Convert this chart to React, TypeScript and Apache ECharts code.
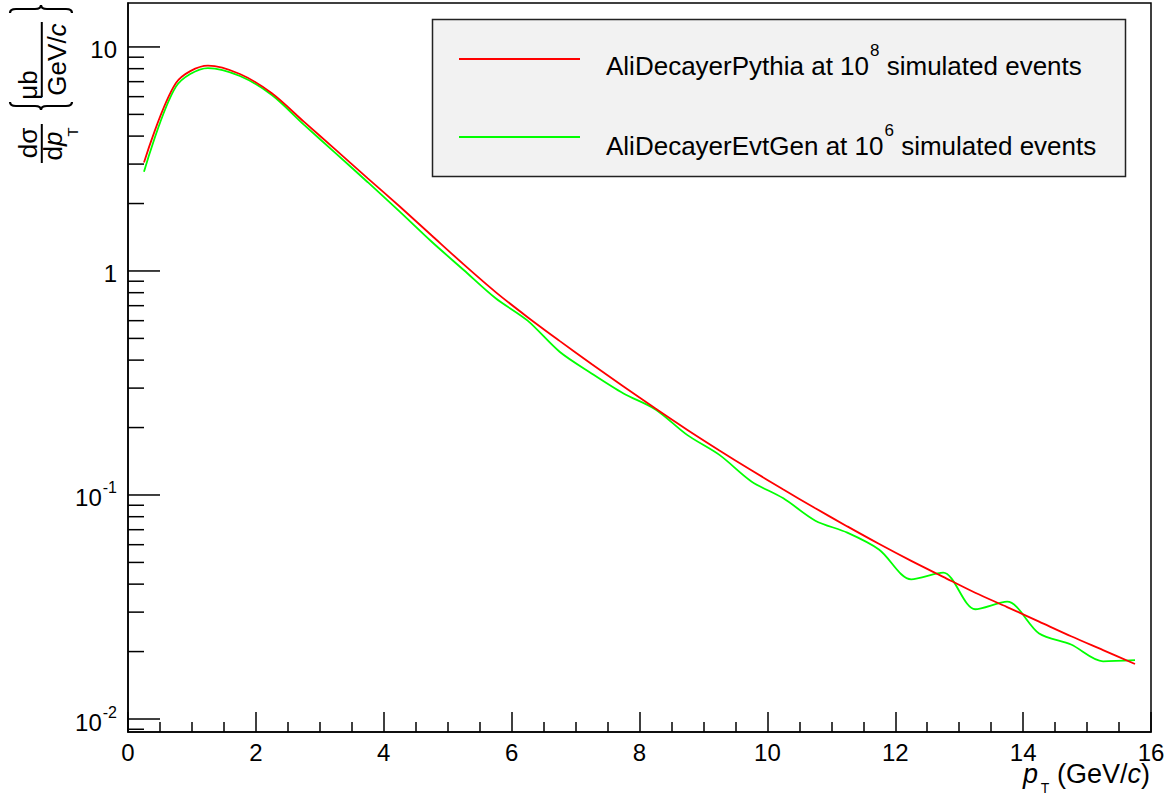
import React, { useEffect, useRef } from 'react';
import * as echarts from 'echarts';

// pT bin centres (GeV/c)
const pT = [0.25, 0.75, 1.25, 1.75, 2.25, 2.75, 3.25, 3.75, 4.25, 4.75, 5.25, 5.75, 6.25, 6.75, 7.25, 7.75,
  8.25, 8.75, 9.25, 9.75, 10.25, 10.75, 11.25, 11.75, 12.25, 12.75, 13.25, 13.75, 14.25, 14.75, 15.25, 15.75];

// dσ/dpT (μb/(GeV/c)) – AliDecayerPythia, 10^8 events
const pythia = [3.05, 6.9, 8.25, 7.57, 6.21, 4.64, 3.47, 2.59, 1.94, 1.44, 1.07, 0.805, 0.622, 0.4875, 0.384, 0.305,
  0.243, 0.195, 0.158, 0.129, 0.1057, 0.0873, 0.0724, 0.0604, 0.0508, 0.0431, 0.0366, 0.0316, 0.0272, 0.0234, 0.0203, 0.0176];

// dσ/dpT (μb/(GeV/c)) – AliDecayerEvtGen, 10^6 events
const evtgen = [2.77, 6.65, 8.05, 7.42, 6.1, 4.5, 3.35, 2.49, 1.84, 1.35, 1.01, 0.755, 0.6, 0.436, 0.349, 0.284,
  0.241, 0.185, 0.151, 0.115, 0.0966, 0.0768, 0.0679, 0.057, 0.042, 0.045, 0.0309, 0.0334, 0.0241, 0.0215, 0.0181, 0.0183];

// axis ticks
const yMajorTicks = [0.01, 0.1, 1, 10];
const yMinorTicks = [0.009, 0.02, 0.03, 0.04, 0.05, 0.06, 0.07, 0.08, 0.09,
  0.2, 0.3, 0.4, 0.5, 0.6, 0.7, 0.8, 0.9, 2, 3, 4, 5, 6, 7, 8, 9];

const legendLabels = [
  { pre: 'AliDecayerPythia at 10', sup: '8', post: ' simulated events' },
  { pre: 'AliDecayerEvtGen at 10', sup: '6', post: ' simulated events' },
];

const FONT = "'Liberation Sans', Arial, Helvetica, sans-serif";

echarts.graphic.registerShape('braceDown', echarts.graphic.extendPath(
  'M0,0 Q0,4 6,4 L25,4 Q31,4 31,8 Q31,4 37,4 L56,4 Q62,4 62,0', {}));
echarts.graphic.registerShape('braceUp', echarts.graphic.extendPath(
  'M0,8 Q0,4 6,4 L25,4 Q31,4 31,0 Q31,4 37,4 L56,4 Q62,4 62,8', {}));

let measureCtx: CanvasRenderingContext2D | null = null;
function textWidth(s: string, size: number) {
  if (!measureCtx) measureCtx = document.createElement('canvas').getContext('2d');
  if (!measureCtx) return s.length * size * 0.55;
  measureCtx.font = `${size}px ${FONT}`;
  return measureCtx.measureText(s).width;
}

function txt(opts: any) {
  const { text, x, y, size, align = 'left', va = 'middle', rotation = 0, rich, italic, lineHeight } = opts;
  return {
    type: 'text', x, y, rotation, silent: true,
    style: {
      text, fill: '#000', fontSize: size, fontFamily: FONT, fontStyle: italic ? 'italic' : 'normal',
      align, textAlign: align, verticalAlign: va, textVerticalAlign: va, rich, lineHeight,
    },
  };
}

function legendText(lbl: { pre: string; sup: string; post: string }, x: number, y: number) {
  const w1 = textWidth(lbl.pre, 26);
  const xs = x + w1 + 1;
  const w2 = textWidth(lbl.sup, 17);
  return [
    { ...txt({ text: lbl.pre, x, y, size: 26 }), z: 11 },
    { ...txt({ text: lbl.sup, x: xs, y: y - 16, size: 17 }), z: 11 },
    { ...txt({ text: lbl.post, x: xs + w2, y, size: 26 }), z: 11 },
  ];
}

function tickSeries(values: number[], len: number) {
  return {
    type: 'custom', silent: true, clip: false, z: 5,
    data: values.map(v => [0, v]),
    renderItem: (params: any, api: any) => {
      const p = api.coord([0, api.value(1)]);
      return {
        type: 'line',
        shape: { x1: p[0], y1: p[1], x2: p[0] + len, y2: p[1] },
        style: { stroke: '#000', lineWidth: 1.5 },
      };
    },
  };
}

export default function App() {
  const ref = useRef<HTMLDivElement>(null);
  useEffect(() => {
    if (!ref.current) return;
    const chart = echarts.init(ref.current, null, { renderer: 'svg' });
    const titleRich = {
      n: { fontSize: 27, fontFamily: FONT, fill: '#000', lineHeight: 24 },
      i: { fontSize: 27, fontFamily: FONT, fill: '#000', fontStyle: 'italic', lineHeight: 24 },
    };
    const yRich = {
      n: { fontSize: 26, fontFamily: FONT, fill: '#000' },
      i: { fontSize: 26, fontFamily: FONT, fill: '#000', fontStyle: 'italic' },
    };
    const option: any = {
      animation: false,
      backgroundColor: '#fff',
      grid: { left: 128, right: 21, top: 3, bottom: 64, show: true, borderColor: '#000', borderWidth: 1.5, backgroundColor: 'transparent' },
      xAxis: {
        type: 'value', min: 0, max: 16, interval: 2,
        axisLine: { show: true, onZero: false, lineStyle: { color: '#000', width: 1.5 } },
        axisTick: { show: true, inside: true, length: 20, lineStyle: { color: '#000', width: 1.5 } },
        minorTick: { show: true, splitNumber: 4, length: 10, lineStyle: { color: '#000', width: 1.5 } },
        splitLine: { show: false },
        axisLabel: { fontSize: 24, fontFamily: FONT, color: '#000', margin: 11, lineHeight: 18 },
      },
      yAxis: {
        type: 'log', logBase: 10, min: 0.00875, max: 15.71,
        axisLine: { show: true, lineStyle: { color: '#000', width: 1.5 } },
        axisTick: { show: false },
        splitLine: { show: false },
        axisLabel: {
          fontSize: 24, fontFamily: FONT, color: '#000', margin: 11,
          formatter: (v: number) => {
            const l = Math.log10(v);
            const e = Math.round(l);
            if (Math.abs(l - e) > 1e-6) return '';
            if (e === 0) return '{b|1}';
            if (e === 1) return '{b|10}';
            return '{b|10}{s|' + e + '}';
          },
          rich: {
            b: { fontSize: 24, fontFamily: FONT, color: '#000', padding: [6, 0, 0, 0] },
            s: { fontSize: 16, fontFamily: FONT, color: '#000', verticalAlign: 'top', padding: [0, 0, 0, 1] },
          },
        },
      },
      series: [
        {
          name: 'AliDecayerPythia', type: 'line', data: pT.map((x, i) => [x, pythia[i]]),
          showSymbol: false, symbol: 'none', smooth: 0.3, lineStyle: { color: '#ff0000', width: 1.8 }, z: 3,
        },
        {
          name: 'AliDecayerEvtGen', type: 'line', data: pT.map((x, i) => [x, evtgen[i]]),
          showSymbol: false, symbol: 'none', smooth: 0.3, lineStyle: { color: '#00ff00', width: 1.8 }, z: 2,
        },
        tickSeries(yMajorTicks, 32),
        tickSeries(yMinorTicks, 16),
      ],
      graphic: [
        // legend box
        { type: 'rect', shape: { x: 432.5, y: 19.5, width: 693, height: 157 }, style: { fill: '#f2f2f2', stroke: '#222', lineWidth: 1.5 }, z: 10 },
        { type: 'line', shape: { x1: 459, y1: 59, x2: 580, y2: 59 }, style: { stroke: '#ff0000', lineWidth: 1.8 }, z: 11 },
        { type: 'line', shape: { x1: 459, y1: 137, x2: 580, y2: 137 }, style: { stroke: '#00ff00', lineWidth: 1.8 }, z: 11 },
        ...legendText(legendLabels[0], 606, 66),
        ...legendText(legendLabels[1], 606, 146),
        // x-axis title
        txt({ text: 'p', x: 1023, y: 774, size: 27, italic: true, lineHeight: 24 }),
        txt({ text: 'T', x: 1045, y: 788, size: 14, align: 'center', lineHeight: 14 }),
        txt({ text: '{n|(GeV/}{i|c}{n|)}', x: 1150, y: 774, size: 27, align: 'right', rich: titleRich }),
        // y-axis title (rotated)
        txt({ text: 'dσ', x: 28, y: 143, size: 26, align: 'center', rotation: Math.PI / 2 }),
        { type: 'rect', shape: { x: 40.8, y: 124, width: 2, height: 39 }, style: { fill: '#000' } },
        txt({ text: '{n|d}{i|p}', x: 53, y: 146, size: 26, align: 'center', rotation: Math.PI / 2, rich: yRich }),
        txt({ text: 'T', x: 72, y: 132, size: 15, align: 'center', rotation: Math.PI / 2 }),
        txt({ text: 'μb', x: 28, y: 85, size: 26, align: 'center', rotation: Math.PI / 2 }),
        { type: 'rect', shape: { x: 40.8, y: 22, width: 2, height: 75 }, style: { fill: '#000' } },
        txt({ text: '{n|GeV/}{i|c}', x: 57, y: 59.5, size: 26, align: 'center', rotation: Math.PI / 2, rich: yRich }),
        { type: 'braceUp', x: 10, y: 5, style: { stroke: '#000', lineWidth: 2.2, fill: null } },
        { type: 'braceDown', x: 10, y: 102, style: { stroke: '#000', lineWidth: 2.2, fill: null } },
      ],
    };
    chart.setOption(option);
    return () => chart.dispose();
  }, []);
  return <div ref={ref} style={{ position: 'fixed', left: 0, top: 0, width: 1172, height: 796, background: '#fff' }} />;
}
